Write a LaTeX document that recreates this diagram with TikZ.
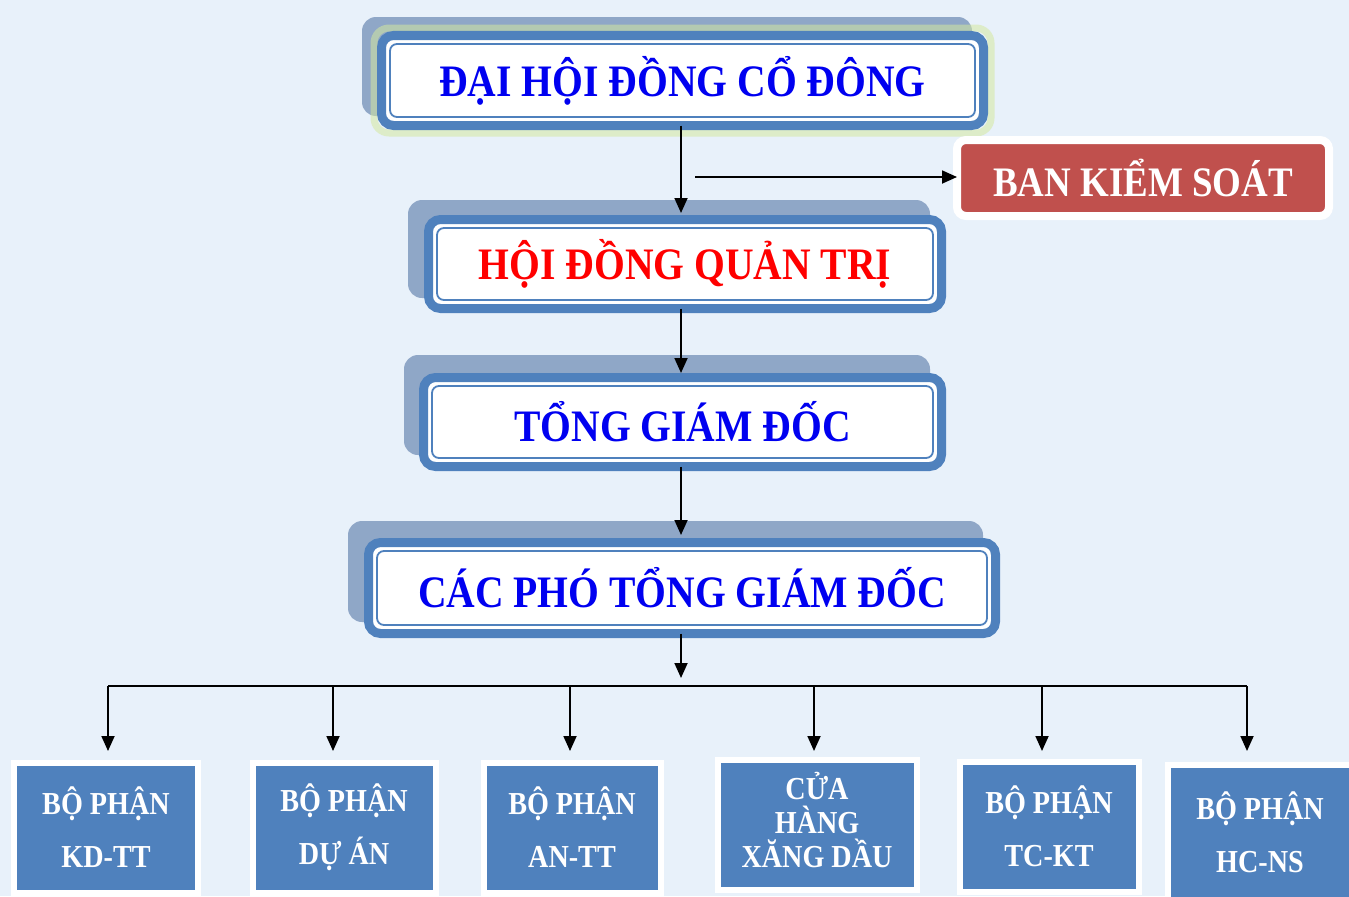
\documentclass[tikz,border=0pt]{standalone}
\usepackage{fontspec}
\setmainfont{Liberation Serif}[FakeStretch=0.88]
\usetikzlibrary{arrows.meta,calc}
\definecolor{bg}{RGB}{232,241,250}
\definecolor{boxblue}{RGB}{79,129,189}
\definecolor{shadowc}{RGB}{143,167,199}
\definecolor{glowc}{RGB}{212,232,160}
\definecolor{txtblue}{RGB}{0,0,240}
\definecolor{txtred}{RGB}{255,0,0}
\definecolor{bksred}{RGB}{192,80,77}
\tikzset{
  mainbox/.style={draw=boxblue, line width=9bp, fill=white, rounded corners=12bp,
    outer sep=0pt, inner sep=0pt, align=center,
    font=\fontsize{45bp}{48bp}\selectfont\bfseries},
  shadowbox/.style={fill=shadowc, rounded corners=14bp},
  thinline/.style={draw=boxblue, line width=1.8bp, rounded corners=7bp},
  bksbox/.style={draw=white, line width=8bp, fill=bksred, rounded corners=9bp,
    outer sep=0pt, inner sep=0pt, text=white,
    font=\fontsize{42bp}{46bp}\selectfont\bfseries},
  deptbox/.style={draw=white, line width=6bp, fill=boxblue, outer sep=0pt,
    inner sep=0pt, align=center, text=white,
    font=\fontsize{32bp}{53bp}\selectfont\bfseries},
  conn/.style={line width=1.8bp, draw=black, -{Triangle[width=13bp,length=15bp]}},
  busline/.style={line width=1.8bp, draw=black},
}
\newcommand{\innerframe}[1]{%
  \draw[thinline] ([shift={(8.5,8.5)}]#1.north west) rectangle ([shift={(-8.5,-8.5)}]#1.south east);}
\begin{document}
\begin{tikzpicture}[x=1bp,y=-1bp]
\clip (0,0) rectangle (1349,896);
\useasboundingbox (0,0) rectangle (1349,896);
\fill[bg] (0,0) rectangle (1349,896);

% shadows
\fill[shadowbox] (362,17) rectangle (972,116);
\fill[shadowbox] (408,200) rectangle (930,298);
\fill[shadowbox] (404,355) rectangle (930,455);
\fill[shadowbox] (348,521) rectangle (983,622);
% glow around first box
\draw[glowc, line width=7bp, rounded corners=15bp, opacity=0.55] (374,28) rectangle (991,133);

% main boxes
\node[mainbox, text=txtblue, minimum width=602bp, minimum height=90bp] (dhcd) at (682.5,80.5) {ĐẠI HỘI ĐỒNG CỔ ĐÔNG};
\innerframe{dhcd}
\node[mainbox, text=txtred, minimum width=513bp, minimum height=89bp] (hdqt) at (685,264) {HỘI ĐỒNG QUẢN TRỊ};
\innerframe{hdqt}
\node[mainbox, text=txtblue, minimum width=518bp, minimum height=89bp] (tgd) at (682.5,422) {TỔNG GIÁM ĐỐC};
\innerframe{tgd}
\node[mainbox, text=txtblue, minimum width=627bp, minimum height=91bp] (pgd) at (682,588) {CÁC PHÓ TỔNG GIÁM ĐỐC};
\innerframe{pgd}

% ban kiem soat
\node[bksbox, minimum width=372bp, minimum height=76bp] (bks) at (1143,178) {BAN KIỂM SOÁT};

% departments
\node[deptbox, minimum width=183bp, minimum height=130bp] (d1) at (106,827.5) {BỘ PHẬN\\KD-TT};
\node[deptbox, minimum width=183bp, minimum height=130bp] (d2) at (344,827.5) {BỘ PHẬN\\DỰ ÁN};
\node[deptbox, minimum width=177bp, minimum height=130bp] (d3) at (572,827.5) {BỘ PHẬN\\AN-TT};
\node[deptbox, minimum width=199bp, minimum height=130bp, font=\fontsize{32bp}{34bp}\selectfont\bfseries] (d4) at (817,824.5) {CỬA\\HÀNG\\XĂNG DẦU\\[-24bp]};
\node[deptbox, minimum width=179bp, minimum height=130bp] (d5) at (1049,826.5) {BỘ PHẬN\\TC-KT};
\node[deptbox, minimum width=185bp, minimum height=136bp] (d6) at (1260,832.5) {BỘ PHẬN\\HC-NS};

% connectors
\draw[conn] (dhcd.south -| 681,0) -- (681,213);
\coordinate (bk0) at (695,177);
\draw[conn] (bk0) -- (bk0 -| bks.west);
\draw[conn] (hdqt.south -| 681,0) -- (681,373);
\draw[conn] (tgd.south -| 681,0) -- (681,535);
\coordinate (bus) at (681,678);
\draw[conn] (pgd.south -| 681,0) -- (bus);
\coordinate (busL) at (108,686);
\coordinate (busR) at (1247,686);
\draw[busline] (busL) -- (busR);
\foreach \xx/\nn in {108/d1,333/d2,570/d3,814/d4,1042/d5,1247/d6}{
  \draw[conn] (\xx,686) -- (\xx,751);
}
\end{tikzpicture}
\end{document}
